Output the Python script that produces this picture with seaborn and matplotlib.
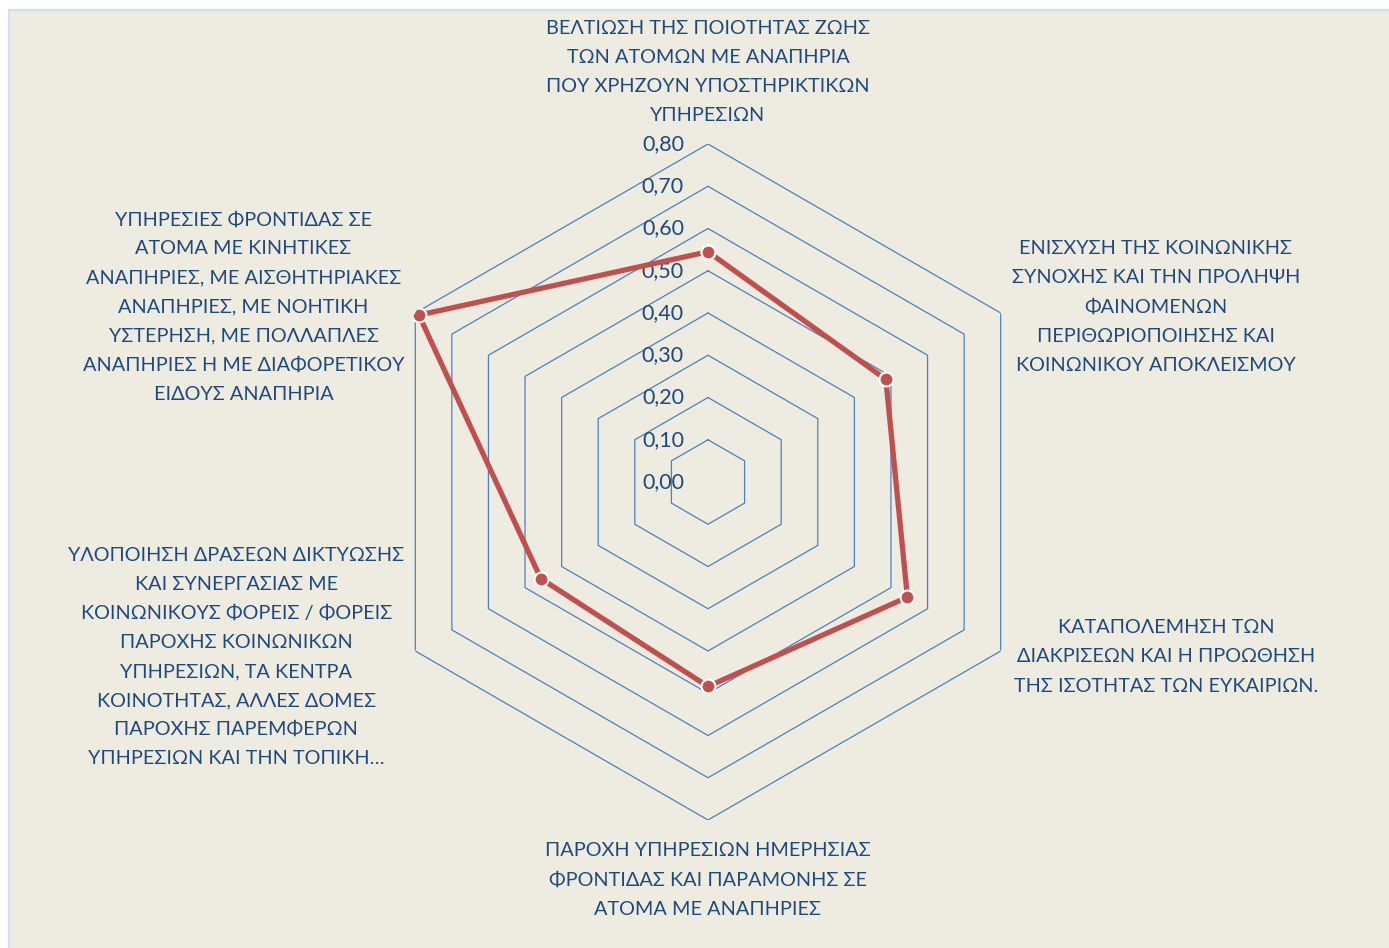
import numpy as np
import pandas as pd
import seaborn as sns
import matplotlib.pyplot as plt
from matplotlib.patches import Rectangle

categories = [
    "ΒΕΛΤΙΩΣΗ ΤΗΣ ΠΟΙΟΤΗΤΑΣ ΖΩΗΣ\nΤΩΝ ΑΤΟΜΩΝ ΜΕ ΑΝΑΠΗΡΙΑ\nΠΟΥ ΧΡΗΖΟΥΝ ΥΠΟΣΤΗΡΙΚΤΙΚΩΝ\nΥΠΗΡΕΣΙΩΝ",
    "ΕΝΙΣΧΥΣΗ ΤΗΣ ΚΟΙΝΩΝΙΚΗΣ\nΣΥΝΟΧΗΣ ΚΑΙ ΤΗΝ ΠΡΟΛΗΨΗ\nΦΑΙΝΟΜΕΝΩΝ\nΠΕΡΙΘΩΡΙΟΠΟΙΗΣΗΣ ΚΑΙ\nΚΟΙΝΩΝΙΚΟΥ ΑΠΟΚΛΕΙΣΜΟΥ",
    "ΚΑΤΑΠΟΛΕΜΗΣΗ ΤΩΝ\nΔΙΑΚΡΙΣΕΩΝ ΚΑΙ Η ΠΡΟΩΘΗΣΗ\nΤΗΣ ΙΣΟΤΗΤΑΣ ΤΩΝ ΕΥΚΑΙΡΙΩΝ.",
    "ΠΑΡΟΧΗ ΥΠΗΡΕΣΙΩΝ ΗΜΕΡΗΣΙΑΣ\nΦΡΟΝΤΙΔΑΣ ΚΑΙ ΠΑΡΑΜΟΝΗΣ ΣΕ\nΑΤΟΜΑ ΜΕ ΑΝΑΠΗΡΙΕΣ",
    "ΥΛΟΠΟΙΗΣΗ ΔΡΑΣΕΩΝ ΔΙΚΤΥΩΣΗΣ\nΚΑΙ ΣΥΝΕΡΓΑΣΙΑΣ ΜΕ\nΚΟΙΝΩΝΙΚΟΥΣ ΦΟΡΕΙΣ / ΦΟΡΕΙΣ\nΠΑΡΟΧΗΣ ΚΟΙΝΩΝΙΚΩΝ\nΥΠΗΡΕΣΙΩΝ, ΤΑ ΚΕΝΤΡΑ\nΚΟΙΝΟΤΗΤΑΣ, ΑΛΛΕΣ ΔΟΜΕΣ\nΠΑΡΟΧΗΣ ΠΑΡΕΜΦΕΡΩΝ\nΥΠΗΡΕΣΙΩΝ ΚΑΙ ΤΗΝ ΤΟΠΙΚΗ…",
    "ΥΠΗΡΕΣΙΕΣ ΦΡΟΝΤΙΔΑΣ ΣΕ\nΑΤΟΜΑ ΜΕ ΚΙΝΗΤΙΚΕΣ\nΑΝΑΠΗΡΙΕΣ, ΜΕ ΑΙΣΘΗΤΗΡΙΑΚΕΣ\nΑΝΑΠΗΡΙΕΣ, ΜΕ ΝΟΗΤΙΚΗ\nΥΣΤΕΡΗΣΗ, ΜΕ ΠΟΛΛΑΠΛΕΣ\nΑΝΑΠΗΡΙΕΣ Η ΜΕ ΔΙΑΦΟΡΕΤΙΚΟΥ\nΕΙΔΟΥΣ ΑΝΑΠΗΡΙΑ",
]
values = [0.545, 0.486, 0.545, 0.484, 0.457, 0.790]
levels = [0.0, 0.1, 0.2, 0.3, 0.4, 0.5, 0.6, 0.7, 0.8]
level_labels = ["0,00", "0,10", "0,20", "0,30", "0,40", "0,50", "0,60", "0,70", "0,80"]

BG = "#EEEBE1"
TEXT = "#1F497D"
GRID = "#4F81BD"
LINE = "#C0504D"

sns.set_theme(style="white")
plt.rcParams["font.family"] = ["Lato", "DejaVu Sans"]

W, H = 1389, 948
fig = plt.figure(figsize=(W / 100, H / 100), dpi=100, facecolor="white")
bg = Rectangle((9 / W, -0.01), 1.0, 1 - 10 / H + 0.01,
               transform=fig.transFigure, facecolor=BG,
               edgecolor="#D3DEEE", lw=1.6, zorder=-10)
fig.patches.append(bg)

cx, cy, R = 708, 482, 338
ax = fig.add_axes([(cx - R) / W, (H - cy - R) / H, 2 * R / W, 2 * R / H],
                  projection="polar")
ax.set_zorder(1)
ax.set_facecolor("none")
ax.patch.set_alpha(0)
ax.set_theta_zero_location("N")
ax.set_theta_direction(-1)
ax.set_ylim(0, 0.8)
ax.grid(False)
ax.set_xticks([])
ax.set_yticks([])
ax.spines["polar"].set_visible(False)

n = len(categories)
theta = np.linspace(0, 2 * np.pi, n, endpoint=False)
theta_closed = np.append(theta, 2 * np.pi)

# hexagonal grid rings
for lv in levels[1:]:
    ax.plot(theta_closed, [lv] * (n + 1), color=GRID, lw=0.9, zorder=1)

# radial tick labels
for lv, lab in zip(levels, level_labels):
    ax.annotate(lab, xy=(0, lv), xytext=(-24 * 0.72, 0), textcoords="offset points",
                ha="right", va="center", fontsize=15.5, color=TEXT, zorder=2)

# data series
df = pd.DataFrame({"theta": theta_closed, "value": values + [values[0]]})
sns.lineplot(data=df, x="theta", y="value", sort=False, ax=ax, color=LINE,
             lw=3.8, marker="o", markersize=10, markerfacecolor=LINE,
             markeredgecolor="white", markeredgewidth=1.5, zorder=5)
ax.set_xlabel("")
ax.set_ylabel("")

# category labels (pixel offsets from each outer vertex)
offsets = [(0, 72, "center"), (11, 6, "left"), (13, -6, "left"),
           (0, -60, "center"), (-11, -6, "right"), (-11, 6, "right")]
for t, lab, (dx, dy, ha) in zip(theta, categories, offsets):
    ax.annotate(lab, xy=(t, 0.8), xytext=(dx * 0.72, dy * 0.72),
                textcoords="offset points", ha=ha, va="center",
                multialignment="center", fontsize=14.3, color=TEXT,
                linespacing=1.86, annotation_clip=False)

fig.savefig("out.png", dpi=100, facecolor="white")
